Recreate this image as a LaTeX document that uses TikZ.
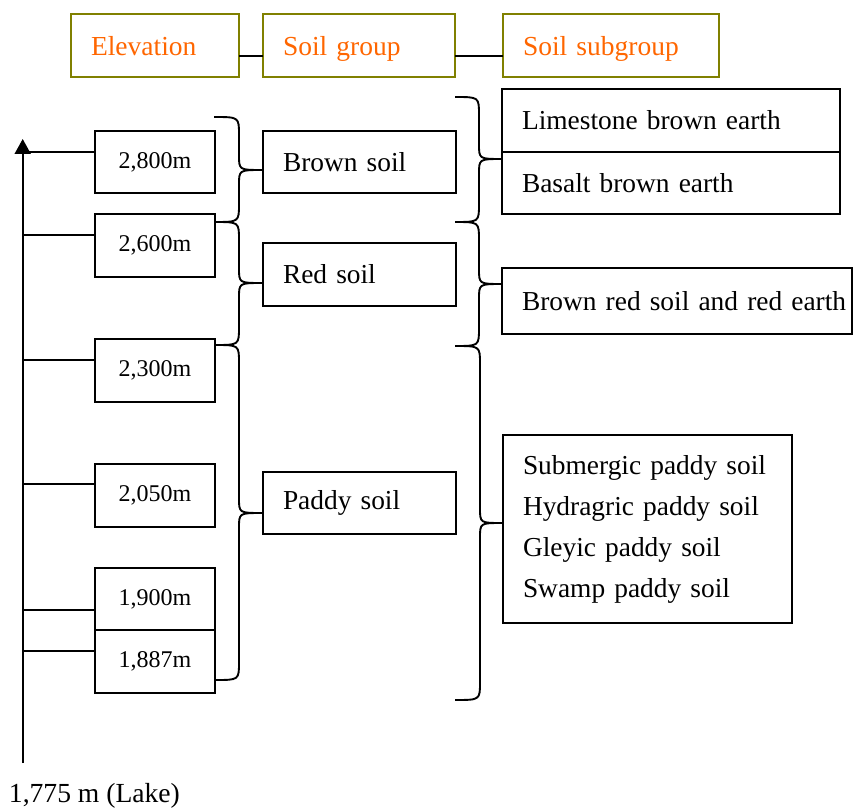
\documentclass[tikz,border=0pt]{standalone}
\usepackage{fontspec}
\setmainfont{Liberation Serif}
\usetikzlibrary{arrows.meta}
\definecolor{olivebd}{RGB}{128,128,0}
\definecolor{orangetx}{RGB}{255,102,0}
\newcommand\mybrace[6]{% x0 xv xt ytop ymid ybottom
  \draw (#1,#4) .. controls (#2,#4) .. (#2,#4+18) -- (#2,#5-15)
    .. controls (#2,#5) .. (#3,#5) .. controls (#2,#5) .. (#2,#5+15)
    -- (#2,#6-18) .. controls (#2,#6) .. (#1,#6);}
\begin{document}
\begin{tikzpicture}[x=1pt,y=-1pt,line width=1.9pt,
  box/.style={draw,line width=1.9pt,inner xsep=20pt,inner ysep=0pt,outer sep=0pt,
    anchor=north west,align=left,font=\fontsize{27.4}{34}\selectfont},
  hbox/.style={box,draw=olivebd,text=orangetx,font=\fontsize{27.5}{33}\selectfont},
  nbox/.style={draw,line width=1.9pt,inner sep=0pt,outer sep=0pt,anchor=north west,
    align=center,font=\fontsize{24}{29}\selectfont,minimum width=120pt},
  tick/.style={line width=1.9pt},
]
\useasboundingbox (0,0) rectangle (853,810);

% header
\node[hbox,text width=128pt,minimum height=63pt,text depth=-2pt] (hel) at (71,14) {Elevation};
\node[hbox,text width=152pt,minimum height=63pt,text depth=-2pt] (hsg) at (263,14) {Soil group};
\node[hbox,text width=176pt,minimum height=63pt,text depth=-2pt] (hss) at (503,14) {Soil subgroup};
\draw (hel.east |- 0,56) -- (hsg.west |- 0,56);
\draw (hsg.east |- 0,56) -- (hss.west |- 0,56);

% elevation boxes
\node[nbox,minimum height=62pt] (e2800) at (95,131) {2,800m};
\node[nbox,minimum height=63pt] (e2600) at (95,214) {2,600m};
\node[nbox,minimum height=63pt] (e2300) at (95,339) {2,300m};
\node[nbox,minimum height=63pt] (e2050) at (95,464) {2,050m};
\node[nbox,minimum height=62pt] (e1900) at (95,568) {1,900m};
\node[nbox,minimum height=63pt] (e1887) at (95,630) {1,887m};

% axis
\coordinate (abot) at (22.7,763);
\coordinate (atop) at (22.7,139);
\draw[-{Triangle[width=16pt,length=15pt]}] (abot) -- (atop);
\foreach \y/\n in {152/e2800,235/e2600,360/e2300,484/e2050,610/e1900,651/e1887}{
  \coordinate (t\n) at (22.7,\y);
  \draw[tick] (t\n) -- (t\n -| \n.west);
}
\node[anchor=base west,inner sep=0pt,font=\fontsize{27.6}{34}\selectfont] (lake) at (8,802) {1,775 m (Lake)};

% soil groups
\node[box,text width=153pt,minimum height=62pt] (brown) at (263,131) {Brown soil};
\node[box,text width=153pt,minimum height=63pt] (red) at (263,243) {Red soil};
\node[box,text width=153pt,minimum height=62pt] (paddy) at (263,472) {Paddy soil};

% subgroups
\node[box,text width=298pt,minimum height=63pt] (lime) at (502,89) {Limestone brown earth};
\node[box,text width=298pt,minimum height=62pt] (basalt) at (502,152) {Basalt brown earth};
\node[box,text width=310pt,minimum height=66pt] (brred) at (502,268) {\mbox{Brown red soil and red earth}};
\node[box,text width=249pt,minimum height=188pt,font=\fontsize{27.4}{41}\selectfont] (psub) at (503,435)
  {Submergic paddy soil\\Hydragric paddy soil\\Gleyic paddy soil\\Swamp paddy soil};

% braces
\mybrace{214}{239}{262}{117}{170}{222}
\mybrace{215}{239}{262}{222}{283}{345}
\mybrace{215}{239}{262}{345}{513}{680}
\mybrace{455}{479}{502}{97}{159}{222}
\mybrace{455}{479}{502}{222}{284}{346}
\mybrace{455}{480}{502}{346}{523}{700}
\end{tikzpicture}
\end{document}
